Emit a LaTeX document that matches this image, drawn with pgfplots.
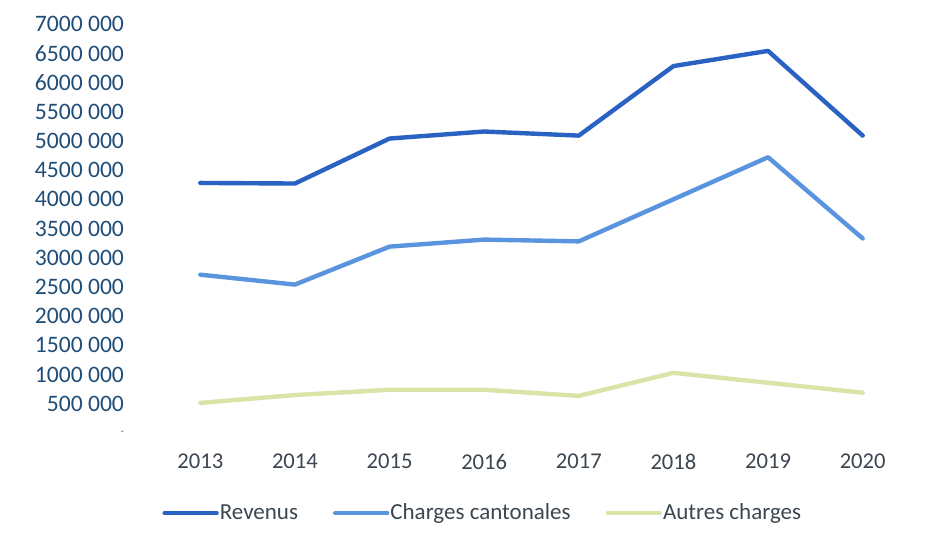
\documentclass[border=0pt]{standalone}
\usepackage{pgfplots}
\pgfplotsset{compat=1.18}
\usepackage{fontspec}
\setmainfont{Carlito}

\definecolor{revenus}{HTML}{2A62C4}
\definecolor{cantonales}{HTML}{5A93DE}
\definecolor{autres}{HTML}{D8E4A8}
\definecolor{ylab}{HTML}{1F4E79}
\definecolor{xlab}{HTML}{3C4650}

\begin{document}
\begin{tikzpicture}
\path[use as bounding box] (-76.5pt,-51.5pt) rectangle (389pt,216.5pt);
\begin{axis}[
  at={(0,0)}, anchor=south west,
  scale only axis,
  width=378.5pt, height=204.5pt,
  xmin=-0.5, xmax=7.5,
  ymin=0, ymax=7000000,
  xtick={0,...,7},
  xticklabels={2013,2014,2015,2016,2017,2018,2019,2020},
  ytick={0,500000,...,7000000},
  yticklabels={{\tiny -},500 000,1000 000,1500 000,2000 000,2500 000,3000 000,3500 000,4000 000,4500 000,5000 000,5500 000,6000 000,6500 000,7000 000},
  scaled y ticks=false,
  axis line style={draw=none},
  tick style={draw=none},
  yticklabel style={font=\fontsize{11.8}{13}\selectfont, text=ylab, xshift=-11pt},
  xticklabel style={font=\fontsize{11.3}{13}\selectfont, text=xlab, yshift=-7pt},
  legend columns=3,
  legend style={at={(0.004,-0.196)}, anchor=west, draw=none, fill=none,
    font=\fontsize{11.5}{13}\selectfont, text=xlab,
    nodes={inner sep=0.5pt},
    /tikz/every even column/.append style={column sep=17pt}},
  legend image code/.code={\draw[#1] (0pt,0pt) -- (26pt,0pt);},
  every axis plot/.append style={line width=2.2pt, line join=round, line cap=round},
]
\addplot[color=revenus] coordinates {
  (0,4280000) (1,4270000) (2,5040000) (3,5160000) (4,5090000) (5,6280000) (6,6540000) (7,5090000)};
\addplot[color=cantonales] coordinates {
  (0,2710000) (1,2540000) (2,3190000) (3,3310000) (4,3280000) (5,4000000) (6,4720000) (7,3330000)};
\addplot[color=autres] coordinates {
  (0,515000) (1,650000) (2,740000) (3,740000) (4,635000) (5,1030000) (6,860000) (7,690000)};
\legend{Revenus, Charges cantonales, Autres charges}
\end{axis}
\end{tikzpicture}
\end{document}
